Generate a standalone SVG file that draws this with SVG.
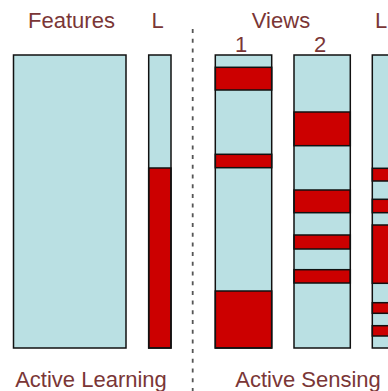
<svg xmlns="http://www.w3.org/2000/svg" width="388" height="391" viewBox="0 0 388 391">
<style>
text{font-family:"Liberation Sans",Arial,sans-serif;font-size:22px;fill:#7a3636;text-anchor:middle}
.bg{fill:#bae0e3;stroke:none}
.r{fill:#cc0000;stroke:#111;stroke-width:1.5}
.frame{fill:none;stroke:#111;stroke-width:1.5}
.sep{stroke:#555;stroke-width:1.8;stroke-dasharray:4 5.7;fill:none}
</style>
<rect width="388" height="391" fill="#fff"/>
<g id="labels">
<text x="71.5" y="28">Features</text>
<text x="157.5" y="28">L</text>
<text x="281" y="28">Views</text>
<text x="241" y="52">1</text>
<text x="320" y="52">2</text>
<text x="381" y="28">L</text>
<text x="91" y="387">Active Learning</text>
<text x="308" y="387">Active Sensing</text>
</g>
<g id="connectors">
<line class="sep" x1="192.7" y1="29" x2="192.7" y2="391"/>
</g>
<g id="features">
<rect class="bg" x="13.5" y="55" width="112.5" height="293"/>
<rect class="frame" x="13.5" y="55" width="112.5" height="293"/>
</g>
<g id="labels-left">
<rect class="bg" x="148.7" y="55" width="22.3" height="293"/>
<rect class="r" x="148.7" y="168" width="22.3" height="180"/>
<rect class="frame" x="148.7" y="55" width="22.3" height="293"/>
</g>
<g id="view1">
<rect class="bg" x="215.3" y="55" width="56.4" height="293"/>
<rect class="r" x="215.3" y="67.3" width="56.4" height="22.7"/>
<rect class="r" x="215.3" y="154.3" width="56.4" height="13.4"/>
<rect class="r" x="215.3" y="291" width="56.4" height="57"/>
<rect class="frame" x="215.3" y="55" width="56.4" height="293"/>
</g>
<g id="view2">
<rect class="bg" x="294" y="55" width="56.3" height="293"/>
<rect class="r" x="294" y="112" width="56.3" height="33.7"/>
<rect class="r" x="294" y="190" width="56.3" height="22.7"/>
<rect class="r" x="294" y="235" width="56.3" height="14"/>
<rect class="r" x="294" y="269.7" width="56.3" height="13.3"/>
<rect class="frame" x="294" y="55" width="56.3" height="293"/>
</g>
<g id="labels-right">
<rect class="bg" x="372.3" y="55" width="30" height="293"/>
<rect class="r" x="372.3" y="168.3" width="30" height="12.7"/>
<rect class="r" x="372.3" y="199.3" width="30" height="13.4"/>
<rect class="r" x="372.3" y="225" width="30" height="58.3"/>
<rect class="r" x="372.3" y="302.7" width="30" height="10.6"/>
<rect class="r" x="372.3" y="325.7" width="30" height="10.3"/>
<rect class="frame" x="372.3" y="55" width="30" height="293"/>
</g>
</svg>
